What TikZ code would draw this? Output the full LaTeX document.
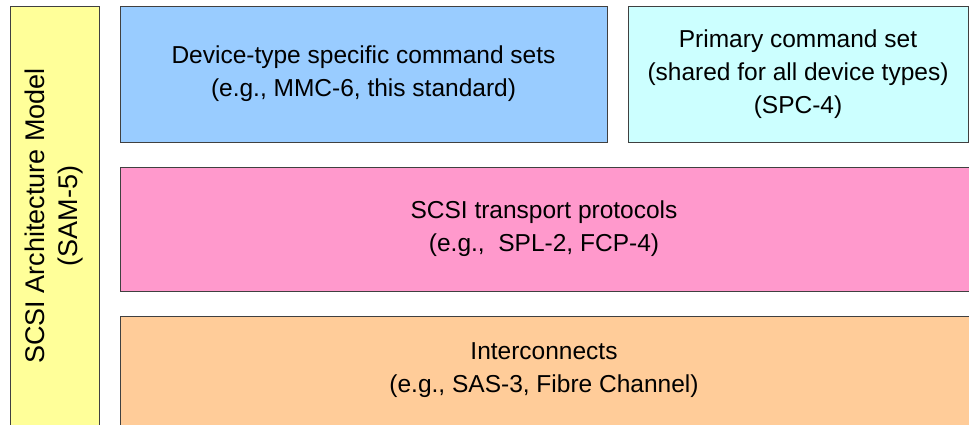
\documentclass[tikz,border=0pt]{standalone}
\usepackage{fontspec}
\setmainfont{Liberation Sans}
\begin{document}
\begin{tikzpicture}[x=1pt,y=-1pt,
  layer/.style={draw=black!75,line width=0.9pt},
  lbl/.style={align=center,font=\fontsize{24.5}{33}\selectfont,text=black},
  vlbl/.style={align=center,font=\fontsize{27}{33}\selectfont,text=black,rotate=90}]
\useasboundingbox (0,0) rectangle (969,425);
\clip (0,0) rectangle (969,425);
\definecolor{cyel}{HTML}{FFFF99}
\definecolor{cblue}{HTML}{99CCFF}
\definecolor{ccyan}{HTML}{CCFFFF}
\definecolor{cpink}{HTML}{FF99CC}
\definecolor{corange}{HTML}{FFCC99}
\filldraw[layer,fill=cyel] (10,6) rectangle (99,440);
\filldraw[layer,fill=cblue] (120,6) rectangle (607,142);
\filldraw[layer,fill=ccyan] (628,6) rectangle (968,142);
\filldraw[layer,fill=cpink] (120,167) rectangle (985,291);
\filldraw[layer,fill=corange] (120,316) rectangle (985,440);
\node[vlbl] (sam) at (54.5,216) {SCSI Architecture Model\\(SAM-5)};
\node[lbl] (dev) at (363.5,74) {Device-type specific command sets\\(e.g., MMC-6, this standard)};
\node[lbl] (spc) at (798,74) {Primary command set\\(shared for all device types)\\(SPC-4)};
\node[lbl] (tp) at (544,229) {SCSI transport protocols\\(e.g.,\ \ SPL-2, FCP-4)};
\node[lbl] (ic) at (544,370) {Interconnects\\(e.g., SAS-3, Fibre Channel)};
\end{tikzpicture}
\end{document}
